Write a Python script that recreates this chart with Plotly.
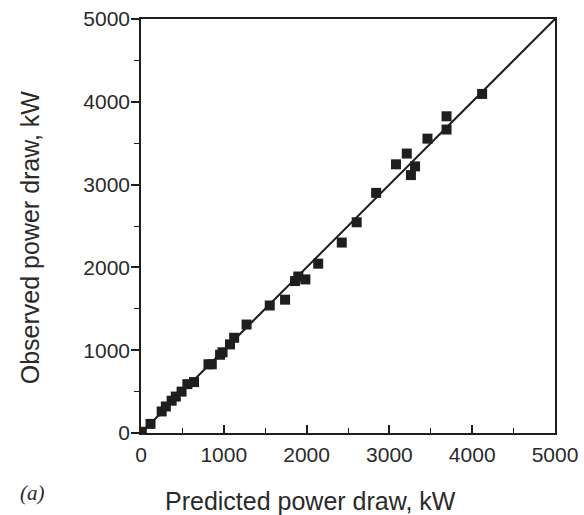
import plotly.graph_objects as go

# Data
predicted = [10, 115, 250, 300, 370, 420, 490, 560, 640, 815, 855, 955, 985,
             1075, 1125, 1275, 1555, 1740, 1860, 1900, 1985, 2140, 2425, 2605,
             2840, 3080, 3210, 3310, 3260, 3460, 3690, 3690, 4120]
observed = [15, 110, 260, 320, 390, 440, 500, 590, 615, 830, 830, 945, 975,
            1070, 1150, 1310, 1540, 1610, 1835, 1890, 1855, 2045, 2300, 2545,
            2900, 3245, 3375, 3220, 3115, 3555, 3825, 3665, 4095]
line_x = [0, 5000]
line_y = [0, 5000]
tick_vals = [0, 1000, 2000, 3000, 4000, 5000]
tick_text = ["0", "1000", "2000", "3000", "4000", "5000"]

ink = "#1e1e1e"
font_family = "Liberation Sans, Arial, Helvetica, sans-serif"

fig = go.Figure()
fig.add_trace(go.Scatter(x=line_x, y=line_y, mode="lines",
                         line=dict(color=ink, width=2), hoverinfo="skip"))
fig.add_trace(go.Scatter(x=predicted, y=observed, mode="markers",
                         marker=dict(symbol="square", size=10, color=ink,
                                     line=dict(width=0))))

axis_common = dict(range=[0, 5000], tickvals=tick_vals, ticktext=tick_text,
                   automargin=False,
                   showgrid=False, zeroline=False, showline=True, mirror=True,
                   linecolor=ink, linewidth=1.5, tickcolor=ink, tickwidth=1.5,
                   tickfont=dict(family=font_family, size=21, color="#2a2a2a"))

fig.update_xaxes(**axis_common, ticks="inside", ticklen=8, ticklabelstandoff=2,
                 minor=dict(dtick=500, tick0=0, ticks="inside", ticklen=5,
                            tickcolor=ink, tickwidth=1.2))
fig.update_yaxes(**axis_common, ticks="outside", ticklen=8, ticklabelstandoff=-3,
                 minor=dict(dtick=500, tick0=0, ticks="outside", ticklen=5,
                            tickcolor=ink, tickwidth=1.2))

fig.update_layout(
    width=584, height=515,
    margin=dict(l=141, r=29, t=19, b=82, pad=0, autoexpand=False),
    paper_bgcolor="white", plot_bgcolor="white",
    showlegend=False,
    font=dict(family=font_family, color="#2a2a2a"),
    annotations=[
        dict(text="Predicted power draw, kW", xref="paper", yref="paper",
             x=0.4106, y=-0.165, xanchor="center", yanchor="middle",
             showarrow=False, font=dict(size=25, family=font_family, color="#2a2a2a")),
        dict(text="Observed power draw, kW", xref="paper", yref="paper",
             x=-0.268, y=0.473, xanchor="center", yanchor="middle", textangle=-90,
             showarrow=False, font=dict(size=25, family=font_family, color="#2a2a2a")),
        dict(text="<i>(a)</i>", xref="paper", yref="paper",
             x=-0.261, y=-0.145, xanchor="center", yanchor="middle",
             showarrow=False, font=dict(size=21, family="Liberation Serif, Times New Roman, serif", color="#2a2a2a")),
    ],
)

fig.write_html("out.html")
